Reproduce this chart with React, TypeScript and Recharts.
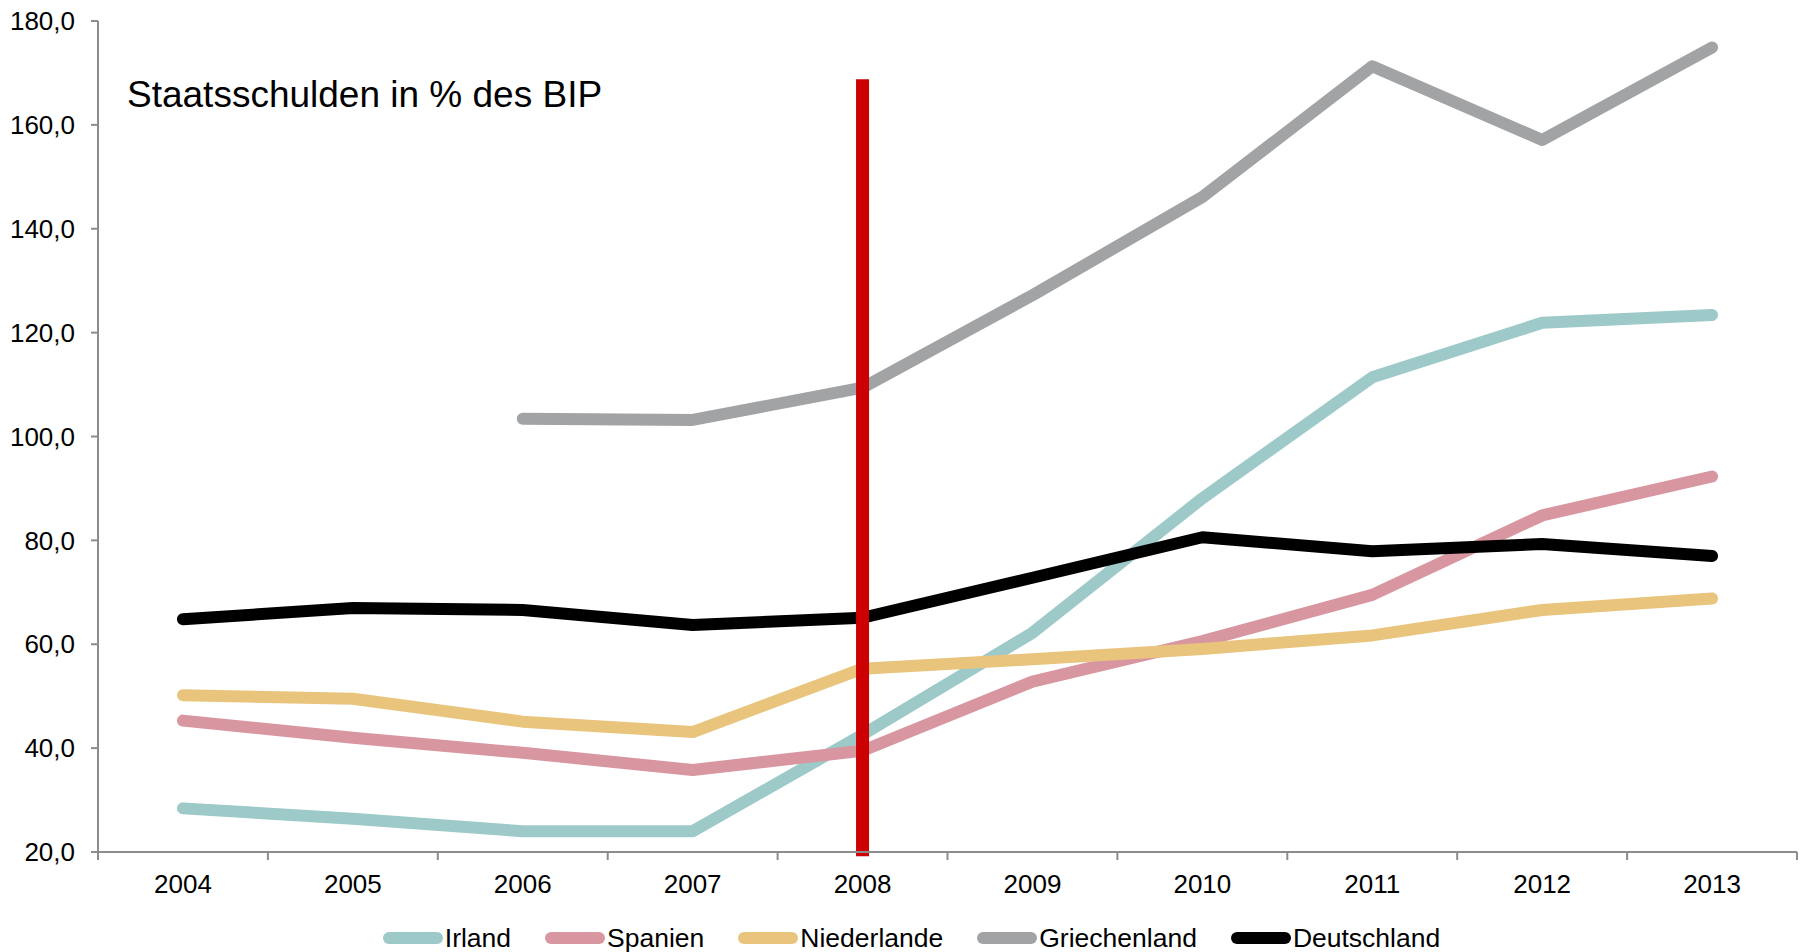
import { LineChart, Line, XAxis, YAxis, ReferenceLine, Legend } from 'recharts'

// ─── Daten ────────────────────────────────────────────────────────────────────

const JAHRE = [2004, 2005, 2006, 2007, 2008, 2009, 2010, 2011, 2012, 2013]

const IRLAND       = [28.4, 26.4, 24.0, 24.0, 42.6, 62.2, 88.1, 111.4, 121.9, 123.4]
const SPANIEN      = [45.3, 42.0, 39.1, 35.8, 39.5, 52.8, 60.6, 69.5, 84.8, 92.3]
const NIEDERLANDE  = [50.2, 49.5, 45.1, 43.1, 55.3, 57.1, 59.1, 61.7, 66.6, 68.8]
const GRIECHENLAND = [null, null, 103.4, 103.2, 109.4, 127.2, 146.1, 171.3, 157.1, 174.9]
const DEUTSCHLAND  = [64.8, 67.0, 66.6, 63.7, 65.1, 72.8, 80.6, 77.9, 79.3, 77.0]

const Y_TICKS = [20, 40, 60, 80, 100, 120, 140, 160, 180]

// Markierung: Krisenjahr 2008
const KRISE_JAHR = 2008
const KRISE_BIS  = 168.8

const SERIEN = [
  { key: 'irland',       name: 'Irland',       werte: IRLAND,       farbe: '#9dc9c9' },
  { key: 'spanien',      name: 'Spanien',      werte: SPANIEN,      farbe: '#d896a0' },
  { key: 'niederlande',  name: 'Niederlande',  werte: NIEDERLANDE,  farbe: '#e9c47d' },
  { key: 'griechenland', name: 'Griechenland', werte: GRIECHENLAND, farbe: '#a1a3a5' },
  { key: 'deutschland',  name: 'Deutschland',  werte: DEUTSCHLAND,  farbe: '#000000' },
]

const daten = JAHRE.map((jahr, i) => {
  const row: Record<string, number | null> = { jahr }
  SERIEN.forEach(s => { row[s.key] = s.werte[i] })
  return row
})

// Ticks an den Kategoriegrenzen (Striche) und in der Mitte (Beschriftung)
const X_TICKS: number[] = []
JAHRE.forEach(j => { X_TICKS.push(j - 0.5, j) })
X_TICKS.push(JAHRE[JAHRE.length - 1] + 0.5)

// ─── Stil ─────────────────────────────────────────────────────────────────────

const FONT = '"Liberation Sans", Arial, sans-serif'
const ACHSE = '#8c8c8c'

function fmtY(n: number): string {
  return n.toFixed(1).replace('.', ',')
}

function XTick({ x, y, payload }: { x?: number; y?: number; payload?: { value: number } }) {
  const v = payload?.value ?? 0
  if (Number.isInteger(v)) {
    return (
      <text x={x} y={y} dy="0.71em" textAnchor="middle" fill="#000" fontSize={26} fontFamily={FONT}>
        {v}
      </text>
    )
  }
  return <line x1={x} x2={x} y1={(y ?? 0) - 23} y2={(y ?? 0) - 15} stroke={ACHSE} strokeWidth={2} />
}

function Legende() {
  return (
    <div style={{ height: 40, paddingTop: 12, paddingLeft: 26, boxSizing: 'border-box', display: 'flex', justifyContent: 'center', alignItems: 'center', gap: 34, fontFamily: FONT, fontSize: 26.5, color: '#000' }}>
      {SERIEN.map(s => (
        <div key={s.key} style={{ display: 'flex', alignItems: 'center', gap: 2, height: 28 }}>
          <span style={{ width: 60, height: 12, borderRadius: 6, background: s.farbe, display: 'inline-block' }} />
          <span style={{ lineHeight: '28px' }}>{s.name}</span>
        </div>
      ))}
    </div>
  )
}

export default function App() {
  return (
    <div style={{ position: 'absolute', left: 0, top: 0, width: 1810, height: 952, background: '#fff' }}>
      <LineChart width={1810} height={952} data={daten} margin={{ top: 21, right: 13, bottom: 0, left: 0 }}>
        <XAxis
          dataKey="jahr"
          type="number"
          domain={[JAHRE[0] - 0.5, JAHRE[JAHRE.length - 1] + 0.5]}
          ticks={X_TICKS}
          interval={0}
          height={60}
          stroke={ACHSE}
          strokeWidth={2}
          tickLine={false}
          tickSize={8}
          tickMargin={15}
          tick={<XTick />}
        />
        <YAxis
          domain={[20, 180]}
          ticks={Y_TICKS}
          interval={0}
          width={98}
          stroke={ACHSE}
          strokeWidth={2}
          tickSize={7}
          tickMargin={16}
          tickFormatter={fmtY}
          tick={{ fill: '#000', fontSize: 26, fontFamily: FONT }}
          tickLine={{ stroke: ACHSE, strokeWidth: 2 }}
        />
        <Legend verticalAlign="bottom" content={<Legende />} />
        {SERIEN.map(s => (
          <Line
            key={s.key}
            type="linear"
            dataKey={s.key}
            name={s.name}
            stroke={s.farbe}
            strokeWidth={12}
            strokeLinecap="round"
            strokeLinejoin="round"
            dot={false}
            activeDot={false}
            connectNulls={false}
            isAnimationActive={false}
          />
        ))}
        <ReferenceLine
          segment={[{ x: KRISE_JAHR, y: 19.2 }, { x: KRISE_JAHR, y: KRISE_BIS }]}
          stroke="#cc0000"
          strokeWidth={13}
          ifOverflow="visible"
        />
      </LineChart>
      <div style={{ position: 'absolute', left: 127, top: 76, fontFamily: FONT, fontSize: 37, lineHeight: 1, color: '#000', whiteSpace: 'nowrap' }}>
        Staatsschulden in % des BIP
      </div>
    </div>
  )
}
